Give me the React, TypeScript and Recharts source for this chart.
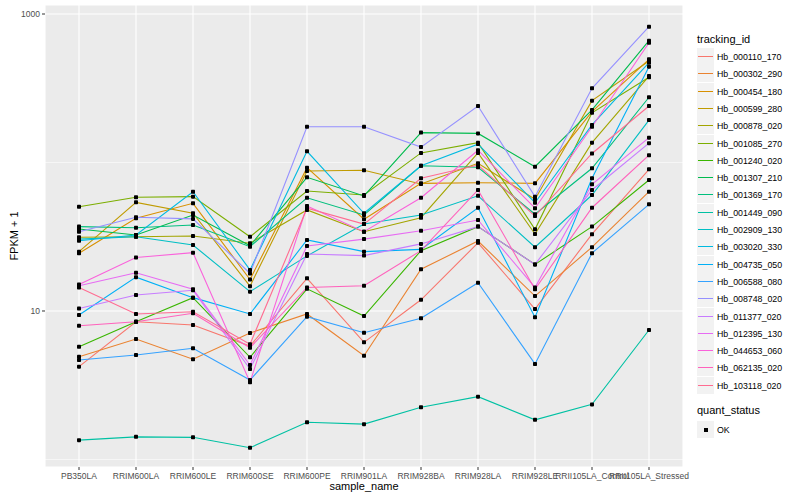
import React from 'react';
import { LineChart, Line, XAxis, YAxis, CartesianGrid, ReferenceLine } from 'recharts';

const samples = [
  'PB350LA', 'RRIM600LA', 'RRIM600LE', 'RRIM600SE', 'RRIM600PE', 'RRIM901LA',
  'RRIM928BA', 'RRIM928LA', 'RRIM928LE', 'RRII105LA_Control', 'RRII105LA_Stressed',
];

const trackingIds = [
  'Hb_000110_170', 'Hb_000302_290', 'Hb_000454_180', 'Hb_000599_280', 'Hb_000878_020',
  'Hb_001085_270', 'Hb_001240_020', 'Hb_001307_210', 'Hb_001369_170', 'Hb_001449_090',
  'Hb_002909_130', 'Hb_003020_330', 'Hb_004735_050', 'Hb_006588_080', 'Hb_008748_020',
  'Hb_011377_020', 'Hb_012395_130', 'Hb_044653_060', 'Hb_062135_020', 'Hb_103118_020',
];

// ggplot default hue palette, 20 levels
const colors = [
  '#F8766D', '#EA8331', '#D89000', '#C09B00', '#A3A500', '#7CAE00', '#39B600', '#00BB4E',
  '#00BF7D', '#00C1A3', '#00BFC4', '#00BAE0', '#00B0F6', '#35A2FF', '#9590FF', '#C77CFF',
  '#E76BF3', '#FA62DB', '#FF62BC', '#FF6C91',
];

// FPKM + 1 per sample
const hb000110_170 = [4.22, 8.47, 8.05, 5.81, 16.6, 6.15, 11.9, 28.8, 10.3, 32.9, 90.0];
const hb000302_290 = [4.92, 6.48, 4.73, 7.11, 9.55, 5.0, 19.1, 29.6, 12.6, 26.9, 63.6];
const hb000454_180 = [24.5, 42.1, 53.1, 16.3, 92.3, 41.5, 72.4, 73.1, 72.4, 220, 495];
const hb000599_280 = [25.1, 53.9, 45.5, 14.7, 87.7, 88.6, 71.6, 98.8, 56.5, 261, 483];
const hb000878_020 = [31.4, 31.6, 32.0, 28.6, 47.9, 34.2, 42.5, 116, 33.0, 136, 382];
const hb001085_270 = [50.4, 58.3, 58.9, 31.6, 64.3, 60.4, 116, 136, 35.5, 216, 375];
const hb001240_020 = [5.75, 8.47, 12.3, 4.88, 14.1, 9.25, 25.5, 37.0, 20.6, 37.0, 76.2];
const hb001307_210 = [35.7, 32.5, 44.3, 27.5, 79.5, 59.5, 159, 157, 93.7, 226, 661];
const hb001369_170 = [37.0, 36.4, 37.9, 27.1, 57.9, 44.3, 95.1, 92.9, 44.8, 91.4, 275];
const hb001449_090 = [1.35, 1.42, 1.41, 1.2, 1.78, 1.73, 2.25, 2.65, 1.85, 2.35, 7.45];
const hb002909_130 = [30.5, 31.6, 27.8, 13.5, 23.5, 38.5, 44.3, 59.7, 26.9, 60.4, 193];
const hb003020_330 = [29.7, 32.5, 63.6, 18.9, 119, 45.5, 95.1, 133, 53.6, 179, 470];
const hb004735_050 = [9.4, 16.9, 12.3, 9.55, 30.1, 25.1, 26.0, 49.6, 9.07, 78.3, 442];
const hb006588_080 = [4.68, 5.05, 5.61, 3.43, 9.16, 7.14, 8.93, 15.5, 4.4, 24.5, 52.3];
const hb008748_020 = [34.2, 42.8, 41.7, 17.9, 174, 174, 127, 240, 58.9, 316, 821];
const hb011377_020 = [10.4, 12.8, 13.8, 4.07, 24.2, 23.6, 28.3, 37.0, 20.6, 65.3, 135];
const hb012395_130 = [14.8, 18.1, 14.0, 4.33, 27.4, 30.5, 34.7, 41.0, 14.4, 71.3, 147];
const hb044653_060 = [15.1, 22.9, 24.7, 3.31, 50.9, 34.2, 57.9, 121, 49.2, 174, 641];
const hb062135_020 = [7.96, 8.47, 9.66, 5.66, 14.4, 14.8, 25.5, 65.3, 14.0, 49.6, 112];
const hb103118_020 = [14.4, 9.55, 9.89, 5.97, 49.2, 38.5, 78.3, 96.2, 43.6, 115, 240];

const seriesValues = [
  hb000110_170, hb000302_290, hb000454_180, hb000599_280, hb000878_020,
  hb001085_270, hb001240_020, hb001307_210, hb001369_170, hb001449_090,
  hb002909_130, hb003020_330, hb004735_050, hb006588_080, hb008748_020,
  hb011377_020, hb012395_130, hb044653_060, hb062135_020, hb103118_020,
];

const yTicks = [10, 1000];
const yMinor = [1, 100];

const data = samples.map((sample, i) => {
  const row: Record<string, any> = { sample };
  trackingIds.forEach((id, j) => {
    row[id] = seriesValues[j][i];
  });
  return row;
});

const font = '"Liberation Sans", Arial, Helvetica, sans-serif';

const SquareDot = (props: any) => {
  const { cx, cy, index, dataKey } = props;
  if (cx == null || cy == null) return <g key={`${dataKey}-${index}`} />;
  return <rect key={`${dataKey}-${index}`} x={cx - 2} y={cy - 2} width={4} height={4} rx={0.8} fill="#000" />;
};

const XTick = (props: any) => {
  const { x, y, payload } = props;
  return (
    <text x={x} y={y + 7} textAnchor="middle" fontSize={8.5} fill="#4D4D4D" fontFamily={font}>
      {payload.value}
    </text>
  );
};

const App: React.FC = () => {
  return (
    <div style={{ position: 'absolute', left: 0, top: 0, width: 800, height: 500, background: '#fff', fontFamily: font }}>
      <LineChart width={800} height={500} data={data} margin={{ top: 5, right: 117, bottom: 0, left: 0 }}>
        <CartesianGrid fill="#EBEBEB" stroke="#fff" strokeWidth={1.1} />
        {yMinor.map((v) => (
          <ReferenceLine key={v} y={v} stroke="#fff" strokeWidth={0.55} />
        ))}
        <XAxis
          dataKey="sample"
          type="category"
          height={33}
          interval={0}
          padding={{ left: 34, right: 34 }}
          axisLine={false}
          tickSize={3}
          tickLine={{ stroke: '#333333' }}
          tick={<XTick />}
        />
        <YAxis
          type="number"
          scale="log"
          domain={[0.89, 1150]}
          allowDataOverflow
          ticks={yTicks}
          width={45}
          axisLine={false}
          tickSize={3}
          tickMargin={2}
          tickLine={{ stroke: '#333333' }}
          tick={{ fontSize: 8.5, fill: '#4D4D4D', fontFamily: font }}
        />
        {trackingIds.map((id, j) => (
          <Line
            key={id}
            dataKey={id}
            stroke={colors[j]}
            strokeWidth={1.1}
            dot={false}
            activeDot={false}
            isAnimationActive={false}
          />
        ))}
        {trackingIds.map((id) => (
          <Line
            key={`${id}-pts`}
            dataKey={id}
            stroke="none"
            dot={SquareDot}
            activeDot={false}
            legendType="none"
            isAnimationActive={false}
          />
        ))}
      </LineChart>

      {/* axis titles */}
      <div style={{ position: 'absolute', left: 45, top: 480, width: 638, textAlign: 'center', fontSize: 11, color: '#000' }}>
        sample_name
      </div>
      <div
        style={{
          position: 'absolute', left: 14, top: 236, fontSize: 11, color: '#000', whiteSpace: 'nowrap',
          transform: 'translate(-50%, -50%) rotate(-90deg)',
        }}
      >
        FPKM + 1
      </div>

      {/* legend */}
      <div style={{ position: 'absolute', left: 697, top: 33, fontSize: 11, color: '#000' }}>tracking_id</div>
      {trackingIds.map((id, j) => (
        <div
          key={id}
          style={{ position: 'absolute', left: 697, top: Math.round(48 + j * 17.3), height: 17, display: 'flex', alignItems: 'center' }}
        >
          <div style={{ width: 17, height: 17, background: '#F2F2F2', position: 'relative' }}>
            <div style={{ position: 'absolute', left: 1, right: 1, top: 8, height: 1, background: colors[j] }} />
          </div>
          <span style={{ marginLeft: 3, fontSize: 8.8, color: '#000' }}>{id}</span>
        </div>
      ))}
      <div style={{ position: 'absolute', left: 697, top: 404, fontSize: 11, color: '#000' }}>quant_status</div>
      <div style={{ position: 'absolute', left: 697, top: 421, height: 17, display: 'flex', alignItems: 'center' }}>
        <div style={{ width: 17, height: 17, background: '#F2F2F2', position: 'relative' }}>
          <div style={{ position: 'absolute', left: 6.5, top: 6.5, width: 4, height: 4, background: '#000' }} />
        </div>
        <span style={{ marginLeft: 3, fontSize: 8.8, color: '#000' }}>OK</span>
      </div>
    </div>
  );
};

export default App;
